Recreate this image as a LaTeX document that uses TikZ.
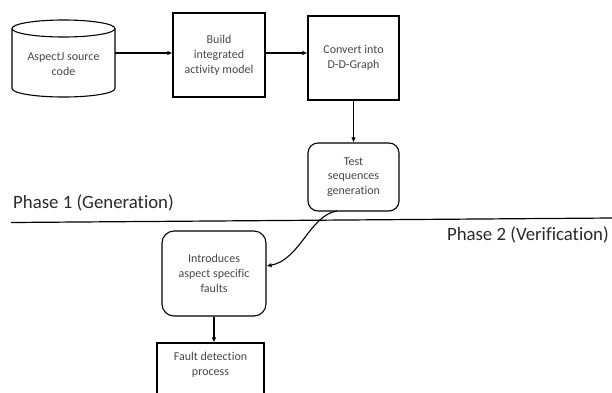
\documentclass[tikz,border=0pt]{standalone}
\usepackage{fontspec}
\setmainfont[Ligatures=CommonOff]{Carlito}
\usetikzlibrary{arrows.meta}
\definecolor{boxtext}{HTML}{484848}
\definecolor{phasetext}{HTML}{2A2A2A}
\tikzset{
  boxbase/.style={draw=black, line width=1.1pt, align=center, font=\fontsize{12}{14.8}\selectfont, text=boxtext, inner sep=0pt},
  sqbox/.style={boxbase},
  rndbox/.style={boxbase, rounded corners=10pt},
  conn/.style={line width=1.1pt, -{Latex[length=5pt,width=4.5pt]}},
  phaselabel/.style={font=\fontsize{18.8}{22}\selectfont, text=phasetext, inner sep=0pt}
}
\begin{document}
\begin{tikzpicture}[x=1pt,y=-1pt]
\clip (0,0) rectangle (612,392);
\fill[white] (0,0) rectangle (612,392);
% cylinder
\draw[line width=1.1pt] (63.5,28.5) ellipse [x radius=51.5, y radius=8.5];
\draw[line width=1.1pt] (12,28.5) -- (12,88.5) arc [start angle=180, end angle=0, x radius=51.5, y radius=8.5] -- (115,28.5);
\node[boxbase, draw=none, minimum width=103pt, minimum height=60pt] (src) at (63.5,64) {AspectJ source\\code};
\node[sqbox, minimum width=92pt, minimum height=84pt] (build) at (219,55) {Build\\integrated\\activity model};
\node[sqbox, minimum width=91pt, minimum height=84pt] (conv) at (353.5,58) {Convert into\\D-D-Graph};
\node[rndbox, minimum width=91pt, minimum height=68pt] (test) at (353.5,177) {Test\\sequences\\generation};
\node[rndbox, rounded corners=12pt, minimum width=104pt, minimum height=85pt] (intro) at (214,273.5) {Introduces\\aspect specific\\faults};
\node[sqbox, minimum width=107pt, minimum height=60pt] (fault) at (210.5,373) {Fault detection\\process\\[4pt]};
% connectors
\draw[conn] (115,53) -- (build.west |- 0,53);
\draw[conn] (build.east |- 0,53) -- (conv.west |- 0,53);
\draw[conn] (conv.south) -- (test.north);
\coordinate (tstart) at (337,211);
\draw[conn] (tstart) .. controls (310,215) and (300,260) .. (intro.east |- 0,266);
\draw[conn] (intro.south) -- (fault.north -| intro.south);
% phase separator
\coordinate (sepL) at (11,222.5);
\coordinate (sepR) at (612,218);
\draw[line width=1.2pt] (sepL) -- (sepR);
\node[phaselabel, anchor=west] (ph1) at (13,203) {Phase 1 (Generation)};
\node[phaselabel, anchor=east] (ph2) at (609,235) {Phase 2 (Verification)};
\end{tikzpicture}
\end{document}
